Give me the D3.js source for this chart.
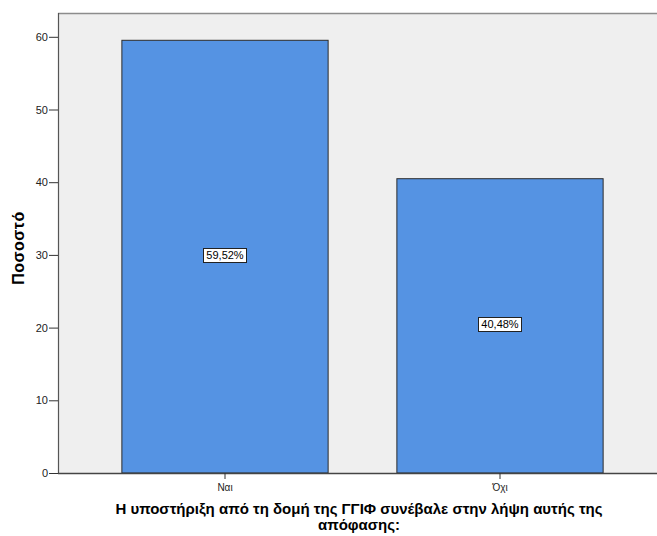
<!DOCTYPE html>
<html><head><meta charset="utf-8">
<script src="https://cdn.jsdelivr.net/npm/d3@7/dist/d3.min.js"></script>
<style>body{margin:0;background:#fff;}svg{display:block;}</style>
</head><body>
<svg id="c" width="657" height="536"></svg>
<script>
const categories = ["Ναι", "Όχι"];
const values = [59.52, 40.48];
const valueLabels = ["59,52%", "40,48%"];
const yTicks = [0, 10, 20, 30, 40, 50, 60];
const xTitleLines = ["Η υποστήριξη από τη δομή της ΓΓΙΦ συνέβαλε στην λήψη αυτής της", "απόφασης:"];
const yTitle = "Ποσοστό";

const svg = d3.select("#c");
const font = "Arial, 'Liberation Sans', sans-serif";
const plotL = 58, plotT = 13, plotR = 657, plotB = 473;

const y = d3.scaleLinear().domain([0, 60]).range([plotB, 36.8]);
const x = d3.scaleBand().domain(categories).range([87.5, 637.5]).paddingInner(0.25).paddingOuter(0.125);

// background
svg.append("rect").attr("x", plotL).attr("y", plotT).attr("width", plotR - plotL).attr("height", plotB - plotT).attr("fill", "#efefef");
// top border
svg.append("line").attr("x1", plotL).attr("x2", plotR).attr("y1", plotT + 0.5).attr("y2", plotT + 0.5).attr("stroke", "#8c8c8c").attr("stroke-width", 1.5);

// bars
svg.selectAll("rect.bar").data(values).enter().append("rect")
  .attr("class", "bar")
  .attr("x", (d, i) => x(categories[i]))
  .attr("y", d => y(d))
  .attr("width", x.bandwidth())
  .attr("height", d => plotB - y(d))
  .attr("fill", "#5593e3")
  .attr("stroke", "#2b2b2b").attr("stroke-width", 1);

// left axis
const ya = svg.append("g").attr("transform", `translate(${plotL},0)`)
  .call(d3.axisLeft(y).tickValues(yTicks).tickSize(9).tickSizeOuter(0).tickPadding(1));
ya.select(".domain").attr("d", `M0.5,${plotT}V${plotB}`).attr("stroke", "#555").attr("stroke-width", 1.2);
ya.selectAll(".tick line").attr("stroke", "#333");
ya.selectAll(".tick text").attr("font-family", font).attr("font-size", 11).attr("fill", "#222");

// bottom axis
const xa = svg.append("g").attr("transform", `translate(0,${plotB})`)
  .call(d3.axisBottom(x).tickSize(6).tickSizeOuter(0).tickPadding(5));
xa.select(".domain").attr("d", `M${plotL},0.5H${plotR}`).attr("stroke", "#444").attr("stroke-width", 1.5);
xa.selectAll(".tick line").attr("stroke", "#333");
xa.selectAll(".tick text").attr("font-family", font).attr("font-size", 10).attr("fill", "#222");

// value labels
values.forEach((v, i) => {
  const cx = x(categories[i]) + x.bandwidth() / 2, cy = y(v / 2) - 2;
  const g = svg.append("g");
  const t = g.append("text").attr("x", cx).attr("y", cy + 4).attr("text-anchor", "middle")
    .attr("font-family", font).attr("font-size", 11).attr("fill", "#000").text(valueLabels[i]);
  const bb = t.node().getBBox();
  g.insert("rect", "text").attr("x", Math.round(bb.x - 3) + 0.5).attr("y", Math.round(cy - 7) + 0.5)
    .attr("width", Math.round(bb.width + 5)).attr("height", 14)
    .attr("fill", "#fff").attr("stroke", "#222").attr("stroke-width", 1);
});

// x title
svg.append("text").attr("x", 359).attr("y", 514).attr("text-anchor", "middle")
  .attr("font-family", font).attr("font-size", 15).attr("font-weight", "bold").attr("fill", "#000")
  .selectAll("tspan").data(xTitleLines).enter().append("tspan")
  .attr("x", 359).attr("dy", (d, i) => i ? 16 : 0).text(d => d);

// y title
svg.append("text").attr("transform", "translate(24,248) rotate(-90)").attr("text-anchor", "middle")
  .attr("font-family", font).attr("font-size", 16).attr("font-weight", "bold").attr("letter-spacing", 0.5).attr("fill", "#000").text(yTitle);
</script>
</body></html>
